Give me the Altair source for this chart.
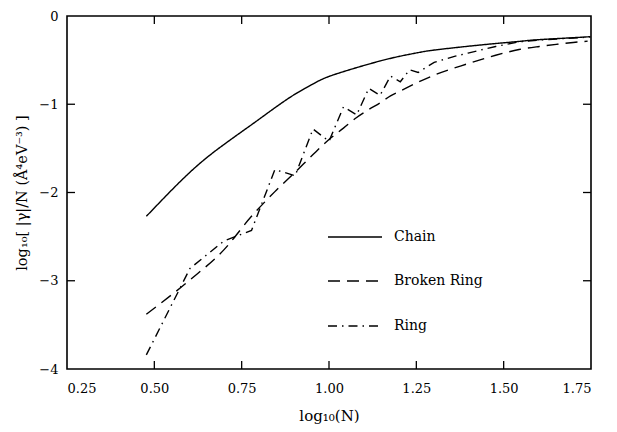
import altair as alt
import numpy as np
import pandas as pd

# ---- data ----
chain_n = [3, 4, 5, 6, 7, 8, 9, 10, 12, 14, 16, 18, 20, 25, 30, 35, 40, 50, 56]
chain_y = [-2.27, -1.77, -1.457, -1.232, -1.04, -0.885, -0.77, -0.685, -0.585, -0.51,
           -0.455, -0.415, -0.386, -0.343, -0.312, -0.288, -0.268, -0.246, -0.234]

broken_n = [3, 4, 5, 6, 7, 8, 9, 10, 11, 12, 13, 14, 15, 16, 18, 20, 25, 30, 35, 40, 45, 50, 55]
broken_y = [-3.38, -2.99, -2.65, -2.27, -1.99, -1.77, -1.57, -1.40, -1.27, -1.15, -1.06,
            -0.985, -0.905, -0.85, -0.75, -0.67, -0.54, -0.445, -0.38, -0.345, -0.32,
            -0.30, -0.285]

ring_n = [3, 4, 5, 6, 7, 8, 9, 10, 11, 12, 13, 14, 15, 16, 17, 18, 20, 23, 25, 30, 35,
          40, 45, 50, 56]
ring_y = [-3.84, -2.86, -2.55, -2.43, -1.74, -1.81, -1.28, -1.42, -1.03, -1.12, -0.82,
          -0.90, -0.68, -0.745, -0.61, -0.64, -0.525, -0.455, -0.42, -0.345, -0.293,
          -0.272, -0.26, -0.25, -0.238]

x_tick_vals = [0.25, 0.50, 0.75, 1.00, 1.25, 1.50, 1.75]
y_tick_vals = [-4, -3, -2, -1, 0]
x_inner_ticks = [0.50, 0.75, 1.00, 1.25, 1.50]
y_inner_ticks = [-3, -2, -1]

series_names = ["Chain", "Broken Ring", "Ring"]

FONT = "DejaVu Serif"
W, H = 524, 353

def frame(ns, ys, name):
    return pd.DataFrame({"x": np.log10(np.array(ns, dtype=float)), "y": ys, "series": name})

xs = alt.Scale(domain=[0.25, 1.75], nice=False, zero=False)
ys = alt.Scale(domain=[-4, 0], nice=False, zero=False)

x_enc = alt.X("x:Q", scale=xs,
              axis=alt.Axis(values=x_tick_vals, format=".2f", ticks=False, domain=False,
                            grid=False, labelFont=FONT, labelFontSize=13, labelColor="black",
                            labelPadding=13, title="log₁₀(N)", titleFont=FONT,
                            titleFontSize=15, titleFontWeight="normal", titleColor="black",
                            titlePadding=13))
y_enc = alt.Y("y:Q", scale=ys,
              axis=alt.Axis(values=y_tick_vals, format="d", ticks=False, domain=False,
                            grid=False, labelFont=FONT, labelFontSize=13, labelColor="black",
                            labelPadding=9, title="log₁₀[ |γ|/N (Å⁴eV⁻³) ]", titleFont=FONT,
                            titleFontSize=14.5, titleFontWeight="normal", titleColor="black",
                            titlePadding=9))

dashes = {"Chain": [1, 0], "Broken Ring": [12, 7], "Ring": [9, 5, 1.5, 5]}
interp = {"Chain": "natural", "Broken Ring": "monotone", "Ring": "linear"}

layers = []
for name, ns, yv in [("Chain", chain_n, chain_y), ("Broken Ring", broken_n, broken_y),
                     ("Ring", ring_n, ring_y)]:
    layers.append(
        alt.Chart(frame(ns, yv, name)).mark_line(
            color="black", strokeWidth=1.4, strokeDash=dashes[name], interpolate=interp[name]
        ).encode(x=x_enc, y=y_enc, order="x:Q")
    )

# inward ticks on all four sides
xt = pd.DataFrame({"x": x_inner_ticks})
yt = pd.DataFrame({"y": y_inner_ticks})
tick_style = dict(color="black", strokeWidth=1.3)
layers.append(alt.Chart(xt).mark_rule(**tick_style).encode(
    x=alt.X("x:Q", scale=xs), y=alt.value(H), y2=alt.value(H - 8)))
layers.append(alt.Chart(xt).mark_rule(**tick_style).encode(
    x=alt.X("x:Q", scale=xs), y=alt.value(0), y2=alt.value(8)))
layers.append(alt.Chart(yt).mark_rule(**tick_style).encode(
    y=alt.Y("y:Q", scale=ys), x=alt.value(0), x2=alt.value(8)))
layers.append(alt.Chart(yt).mark_rule(**tick_style).encode(
    y=alt.Y("y:Q", scale=ys), x=alt.value(W), x2=alt.value(W - 8)))

# legend drawn inside the plot
for name, ypix in zip(series_names, [221, 265, 310]):
    d = pd.DataFrame({"label": [name]})
    layers.append(alt.Chart(d).mark_rule(color="black", strokeWidth=1.4,
                                         strokeDash=dashes[name]).encode(
        x=alt.value(261), x2=alt.value(315), y=alt.value(ypix)))
    layers.append(alt.Chart(d).mark_text(align="left", baseline="middle", font=FONT,
                                         fontSize=14, color="black").encode(
        x=alt.value(327), y=alt.value(ypix), text="label:N"))

chart = alt.layer(*layers).properties(
    width=W, height=H,
    autosize=alt.AutoSizeParams(type="none"),
    padding={"left": 59, "top": 8, "right": 18, "bottom": 60},
).configure_view(stroke="black", strokeWidth=1.6)

chart.save("out.html", embed_options={"renderer": "svg", "actions": False})
